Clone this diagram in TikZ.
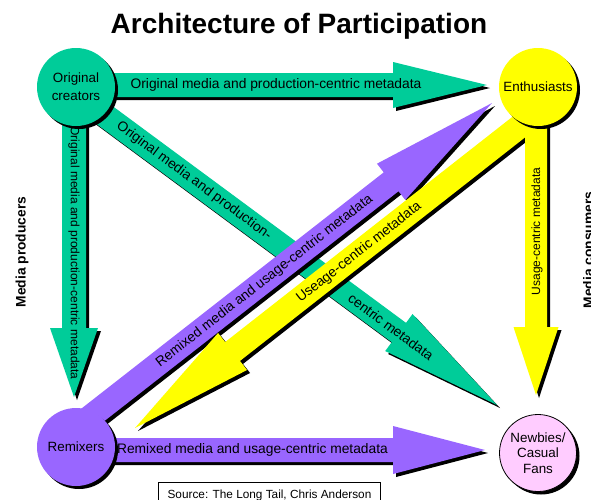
\documentclass[tikz,border=0pt]{standalone}
\usepackage{fontspec}
\setmainfont{Liberation Sans}
\usetikzlibrary{calc,backgrounds,shadows}
\definecolor{cgreen}{HTML}{00CC99}
\definecolor{cpurple}{HTML}{9966FF}
\definecolor{cyellow}{HTML}{FFFF00}
\definecolor{cpink}{HTML}{FFCCFF}
\newcommand\titlefont{\fontsize{28}{32}\selectfont\bfseries}
\newcommand\circfont{\fontsize{13.4}{15.8}\selectfont}
\newcommand\lblfont{\fontsize{13.8}{16}\selectfont}
\newcommand\vlblfont{\fontsize{12}{14}\selectfont}
\newcommand\sidefont{\fontsize{13.8}{16}\selectfont\bfseries}
\newcommand\srcfont{\fontsize{11.8}{14}\selectfont}
% #1 name prefix (uses #1-s and #1-t), #2 colour, #3 shaft half width, #4 head length, #5 head half width
\newcommand\blockarrow[5]{%
  \coordinate (#1-hb) at ($(#1-t)!#4!(#1-s)$);
  \fill[black, transform canvas={shift={(3pt,-3pt)}}] ($(#1-s)!#3!90:(#1-t)$) -- ($(#1-hb)!#3!90:(#1-t)$) -- ($(#1-hb)!#5!90:(#1-t)$) -- (#1-t) -- ($(#1-hb)!#5!-90:(#1-t)$) -- ($(#1-hb)!#3!-90:(#1-t)$) -- ($(#1-s)!#3!-90:(#1-t)$) -- cycle;
  \fill[#2] ($(#1-s)!#3!90:(#1-t)$) -- ($(#1-hb)!#3!90:(#1-t)$) -- ($(#1-hb)!#5!90:(#1-t)$) -- (#1-t) -- ($(#1-hb)!#5!-90:(#1-t)$) -- ($(#1-hb)!#3!-90:(#1-t)$) -- ($(#1-s)!#3!-90:(#1-t)$) -- cycle;
}
\begin{document}
\begin{tikzpicture}[x=1pt,y=-1pt,
  circ/.style={circle, inner sep=0pt, minimum size=78pt, align=center, font=\circfont,
    drop shadow={shadow xshift=3pt, shadow yshift=-3pt, fill=black, opacity=1}},
  lbl/.style={inner sep=0pt, font=\lblfont},
  vlbl/.style={inner sep=0pt, font=\vlblfont},
  side/.style={inner sep=0pt, font=\sidefont, rotate=90, anchor=base}]
\useasboundingbox (0,0) rectangle (591,499);

\node[font=\titlefont, anchor=base, inner sep=0pt] (title) at (299,33) {Architecture of Participation};

\node[circ, fill=cgreen] (oc) at (76,87) {Original\\[2pt]creators};
\node[circ, fill=cyellow] (en) at (538,87) {Enthusiasts};
\node[circ, fill=cpurple] (rx) at (76,447) {Remixers};
\node[circ, fill=cpink, draw=black, line width=0.8pt, minimum size=77pt] (nb) at (538,453) {Newbies/\\Casual\\Fans};

\coordinate (gh-s) at ($(oc)+(0,-2)$);
\coordinate (gh-t) at (487,85);
\coordinate (gv-s) at ($(oc)+(-2,0)$);
\coordinate (gv-t) at (74,397);
\coordinate (gd-s) at ($(oc)+(0,7)$);
\coordinate (gd-t) at (497,405);
\coordinate (pd-s) at ($(rx)+(0,-19)$);
\coordinate (pd-t) at (492,103);
\coordinate (yd-s) at ($(en)+(0,25)$);
\coordinate (yd-t) at (135,428);
\coordinate (yv-s) at ($(en)+(-2,0)$);
\coordinate (yv-t) at (536,395);
\coordinate (ph-s) at ($(rx)+(0,3)$);
\coordinate (ph-t) at (485,450);

\begin{pgfonlayer}{background}
\blockarrow{gh}{cgreen}{12pt}{94pt}{23pt}
\blockarrow{gv}{cgreen}{12pt}{69pt}{24pt}
\blockarrow{gd}{cgreen}{12pt}{122pt}{23pt}
\blockarrow{pd}{cpurple}{12pt}{128pt}{23pt}
\blockarrow{yd}{cyellow}{12pt}{124pt}{23.5pt}
\blockarrow{yv}{cyellow}{11pt}{68pt}{22.5pt}
\blockarrow{ph}{cpurple}{12pt}{92pt}{24pt}
\end{pgfonlayer}

\node[lbl] (gh-l) at (276,85) {Original media and production-centric metadata};
\node[vlbl, rotate=-90] (gv-l) at (74,253) {Original media and production-centric metadata};
\node[lbl, rotate=-36.45] (gd-l1) at (194,181) {Original media and production-};
\node[lbl, rotate=-36.45] (gd-l2) at (391,327) {centric metadata};
\node[lbl, rotate=38] (pd-l) at (264.5,281) {Remixed media and usage-centric metadata};
\node[lbl, rotate=38.1] (yd-l) at (359,252.5) {Useage-centric metadata};
\node[vlbl, rotate=90] (yv-l) at (537,231.5) {Usage-centric metadata};
\node[lbl] (ph-l) at (252.5,450) {Remixed media and usage-centric metadata};

\node[side] (mp) at (25.5,252) {Media producers};
\node[side] (mc) at (593,250) {Media consumers};

\node[font=\srcfont, anchor=base, inner sep=0pt] (src) at (269.5,498) {Source: The Long Tail, Chris Anderson};
\draw[line width=0.9pt] ($(src.base)+(-111.5,-16)$) rectangle ($(src.base)+(110.5,12)$);
\end{tikzpicture}
\end{document}
